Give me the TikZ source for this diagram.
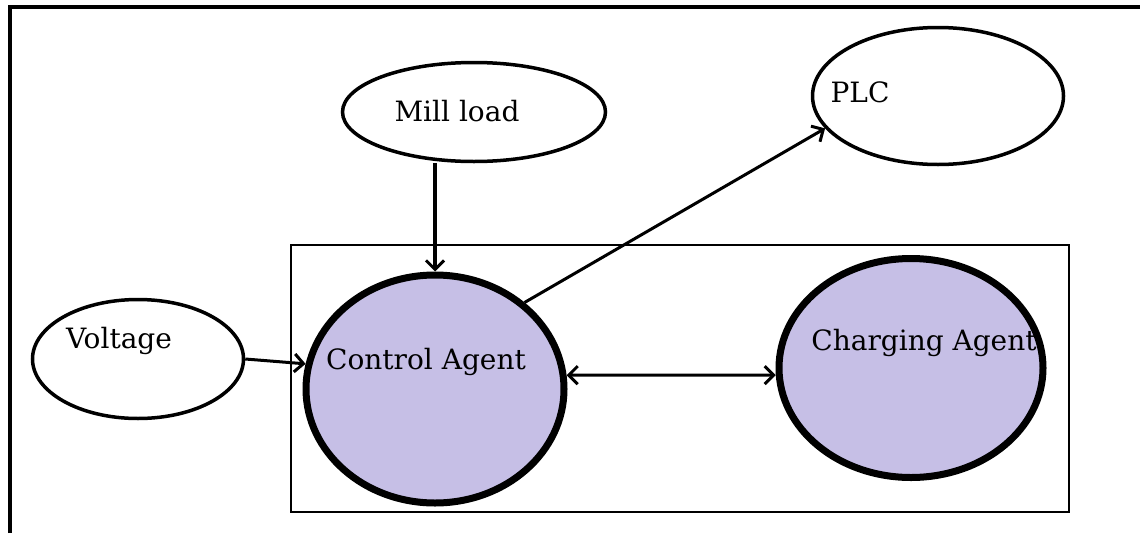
\documentclass[tikz,border=0pt]{standalone}
\usepackage{fontspec}
\setmainfont{DejaVu Serif}
\usetikzlibrary{shapes.geometric,arrows.meta}
\definecolor{agentfill}{RGB}{198,191,230}
\tikzset{
  smallell/.style={ellipse, draw, line width=3.5pt, inner sep=0pt, fill=white},
  agentell/.style={ellipse, draw, line width=7pt, inner sep=0pt, fill=agentfill},
  lbl/.style={inner sep=0pt, font=\fontsize{28}{32}\selectfont},
  >={Straight Barb[length=9pt,width=18pt,line width=3pt]},
  conn/.style={line width=3pt, ->},
}
\begin{document}
\begin{tikzpicture}[x=1pt,y=-1pt]
\useasboundingbox (0,0) rectangle (1140,533);
\fill[white] (0,0) rectangle (1140,533);
% outer frame (top and left edges)
\draw[line width=3.5pt] (10,533) -- (10,7) -- (1140,7);
% inner box
\draw[line width=2.5pt] (291,245) rectangle (1069,512);
% nodes
\node[smallell, minimum width=263pt, minimum height=99pt] (mill) at (474,112) {};
\node[smallell, minimum width=251pt, minimum height=137pt] (plc) at (938,96) {};
\node[smallell, minimum width=211pt, minimum height=119pt] (volt) at (138,359) {};
\node[agentell, minimum width=258pt, minimum height=228pt] (ctrl) at (435,389) {};
\node[agentell, minimum width=264pt, minimum height=219pt] (charge) at (911,368) {};
% labels
\node[lbl] (millT) at (457,111) {Mill load};
\node[lbl] (plcT) at (860,92) {PLC};
\node[lbl] (voltT) at (119,341) {Voltage};
\node[lbl] (ctrlT) at (426,362) {Control Agent};
\node[lbl] (chargeT) at (924,343) {Charging Agent};
% connectors
\draw[conn, line width=3.5pt] (mill.south -| ctrl.north) -- (ctrl.north);
\draw[conn] (volt.east) -- (ctrl.169);
\draw[conn] (ctrl.44) -- (plc.196);
\draw[conn, <->] (ctrl.6) -- (charge.183);
\end{tikzpicture}
\end{document}
